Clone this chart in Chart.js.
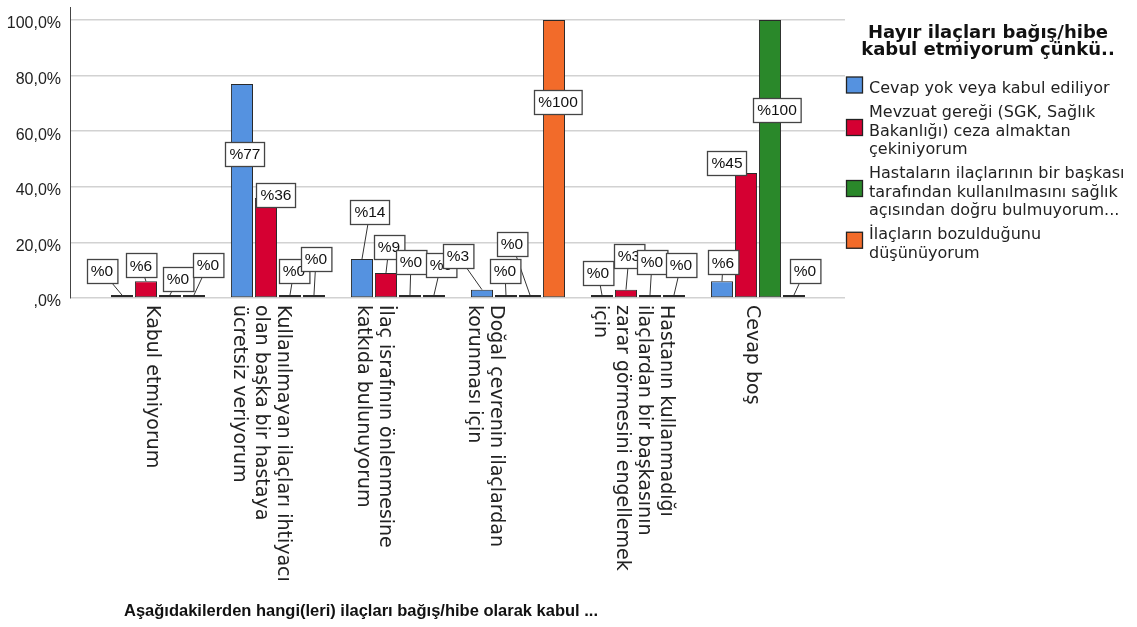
<!DOCTYPE html>
<html>
<head>
<meta charset="utf-8">
<script src="https://cdn.jsdelivr.net/npm/chart.js@4"></script>
<style>
  html, body { margin: 0; padding: 0; background: #fff; }
</style>
</head>
<body>
<canvas id="chart" width="1137" height="627"></canvas>
<script>
// categories (x axis), wrapped the way the original shows them
const categories = [
  ["Kabul etmiyorum"],
  ["Kullanılmayan ilaçları ihtiyacı", "olan başka bir hastaya", "ücretsiz veriyorum"],
  ["İlaç israfının önlenmesine", "katkıda bulunuyorum"],
  ["Doğal çevrenin ilaçlardan", "korunması için"],
  ["Hastanın kullanmadığı", "ilaçlardan bir başkasının", "zarar görmesini engellemek", "için"],
  ["Cevap boş"]
];

// series names (legend)
const seriesNames = [
  ["Cevap yok veya kabul ediliyor"],
  ["Mevzuat gereği (SGK, Sağlık", "Bakanlığı) ceza almaktan", "çekiniyorum"],
  ["Hastaların ilaçlarının bir başkası", "tarafından kullanılmasını sağlık", "açısından doğru bulmuyorum..."],
  ["İlaçların bozulduğunu", "düşünüyorum"]
];

// values in percent
const cevapYok   = [0, 77, 14, 3, 0, 6];
const mevzuat    = [6, 36, 9, 0, 3, 45];
const hastalarin = [0, 0, 0, 0, 0, 100];
const bozuldu    = [0, 0, 0, 100, 0, 0];

const yTicks = [0, 20, 40, 60, 80, 100];
const yTickLabels = [",0%", "20,0%", "40,0%", "60,0%", "80,0%", "100,0%"];

const legendTitle = ["Hayır ilaçları bağış/hibe", "kabul etmiyorum çünkü.."];
const xTitle = "Aşağıdakilerden hangi(leri) ilaçları bağış/hibe olarak kabul ...";

const colors = ["#5592e0", "#d50032", "#2a882a", "#f26b2a"];

// where each value box sits relative to the top of its bar (px), per series / category
const labelShift = [
  [[-20, -24], [3, 70], [8, -47], [-24, -34], [-4, -22], [1, -19]],
  [[-5, -16], [10, -3], [3, -26], [-1, -24], [3, -34], [-19, -10]],
  [[8, -16], [4, -24], [1, -33], [-18, -51], [2, -33], [7, 90]],
  [[14, -30], [2, -36], [7, -30], [4, 82], [7, -30], [11, -24]]
];
// small sideways nudge of the rotated category text
const xLabelShift = [-6, -17, -24, -33, -5, -6];

const allSeries = [cevapYok, mevzuat, hastalarin, bozuldu];

let mkSet = (vals, i) => ({
  label: seriesNames[i].join(" "),
  data: vals.map((v, k) => ({ x: k, y: v })),
  backgroundColor: colors[i],
  borderColor: "#2a2a2a",
  borderWidth: (c) => (c.raw && c.raw.y === 0 ? 1.5 : 1),
  borderSkipped: false,
  minBarLength: 3,
  barPercentage: 0.92,
  categoryPercentage: 0.8
});

// value boxes with leader lines
const valueBoxes = {
  id: "valueBoxes",
  afterDatasetsDraw(chart) {
    const ctx = chart.ctx;
    const items = [];
    ctx.font = '15.5px "Liberation Sans"';
    for (let k = 0; k < categories.length; k++) {
      allSeries.forEach((vals, s) => {
        const bar = chart.getDatasetMeta(s).data[k];
        const txt = "%" + vals[k];
        const w = ctx.measureText(txt).width + 8;
        const cx = bar.x + labelShift[s][k][0];
        const cy = bar.y + labelShift[s][k][1];
        items.push({ txt, w, h: 24, cx, cy, ax: bar.x, ay: bar.y });
      });
    }
    ctx.save();
    ctx.strokeStyle = "#333";
    ctx.lineWidth = 1;
    items.forEach((it) => {
      if (it.cy + it.h / 2 >= it.ay - 1) return;
      ctx.beginPath();
      ctx.moveTo(it.cx, it.cy);
      ctx.lineTo(it.ax, it.ay);
      ctx.stroke();
    });
    items.forEach((it) => {
      const x = Math.round(it.cx - it.w / 2) + 0.5;
      const y = Math.round(it.cy - it.h / 2) + 0.5;
      ctx.fillStyle = "#fff";
      ctx.fillRect(x, y, it.w, it.h);
      ctx.strokeStyle = "#444";
      ctx.lineWidth = 1.3;
      ctx.strokeRect(x, y, it.w, it.h);
      ctx.fillStyle = "#111";
      ctx.textAlign = "center";
      ctx.textBaseline = "middle";
      ctx.fillText(it.txt, it.cx, it.cy + 1);
    });
    ctx.restore();
  }
};

// rotated category text, axis title and the legend block
const decorations = {
  id: "decorations",
  afterDraw(chart) {
    const ctx = chart.ctx;
    const xs = chart.scales.x;
    ctx.save();

    ctx.fillStyle = "#222";
    ctx.font = '19px "DejaVu Sans"';
    ctx.textAlign = "left";
    ctx.textBaseline = "middle";
    categories.forEach((lines, i) => {
      const tx = xs.getPixelForValue(i) + xLabelShift[i];
      const n = lines.length;
      lines.forEach((ln, j) => {
        const v = (j - (n - 1) / 2) * 22;
        ctx.save();
        ctx.translate(tx - v, 305);
        ctx.rotate(Math.PI / 2);
        ctx.fillText(ln, 0, 0);
        ctx.restore();
      });
    });

    ctx.fillStyle = "#111";
    ctx.font = 'bold 16.5px "Liberation Sans"';
    ctx.textAlign = "center";
    ctx.textBaseline = "alphabetic";
    ctx.fillText(xTitle, 361, 616);

    // legend
    ctx.font = 'bold 18px "DejaVu Sans"';
    ctx.fillText(legendTitle[0], 988, 37.5);
    ctx.fillText(legendTitle[1], 988, 54.5);

    ctx.font = '16px "DejaVu Sans"';
    ctx.textAlign = "left";
    let base = 93;
    seriesNames.forEach((lines, s) => {
      const first = base;
      lines.forEach((ln) => {
        ctx.fillStyle = "#222";
        ctx.fillText(ln, 869, base);
        base += 18.5;
      });
      const last = base - 18.5;
      const mid = (first + last) / 2 - 8;
      ctx.fillStyle = colors[s];
      ctx.fillRect(846.5, mid - 8, 16, 16);
      ctx.strokeStyle = "#222";
      ctx.lineWidth = 1.3;
      ctx.strokeRect(846.5, mid - 8, 16, 16);
      base = last + 24;
    });

    ctx.restore();
  }
};

new Chart(document.getElementById("chart"), {
  type: "bar",
  data: {
    datasets: allSeries.map(mkSet)
  },
  options: {
    responsive: false,
    animation: false,
    devicePixelRatio: 1,
    layout: { padding: { top: 7, right: 292, left: 0, bottom: 0 } },
    plugins: {
      legend: { display: false },
      tooltip: { enabled: false }
    },
    scales: {
      x: {
        type: "linear",
        offset: false,
        min: -0.733,
        max: 5.725,
        afterBuildTicks(s) { s.ticks = categories.map((c, i) => ({ value: i })); },
        grid: { display: false, offset: false },
        border: { display: false },
        ticks: { display: false },
        afterFit(s) { s.height = 329; s.paddingLeft = 0; s.paddingRight = 0; }
      },
      y: {
        min: 0,
        max: 104.68,
        afterBuildTicks(s) { s.ticks = yTicks.map((v) => ({ value: v })); },
        ticks: {
          callback: (v) => yTickLabels[yTicks.indexOf(v)],
          font: { family: "Liberation Sans", size: 16 },
          color: "#222",
          padding: 9,
          labelOffset: 4
        },
        grid: { color: "#d2d2d2", lineWidth: 1.5, drawTicks: false },
        border: { display: true, color: "#444", width: 1 },
        afterFit(s) { s.width = 70; s.paddingTop = 0; s.paddingBottom = 0; }
      }
    }
  },
  plugins: [valueBoxes, decorations]
});
</script>
</body>
</html>
